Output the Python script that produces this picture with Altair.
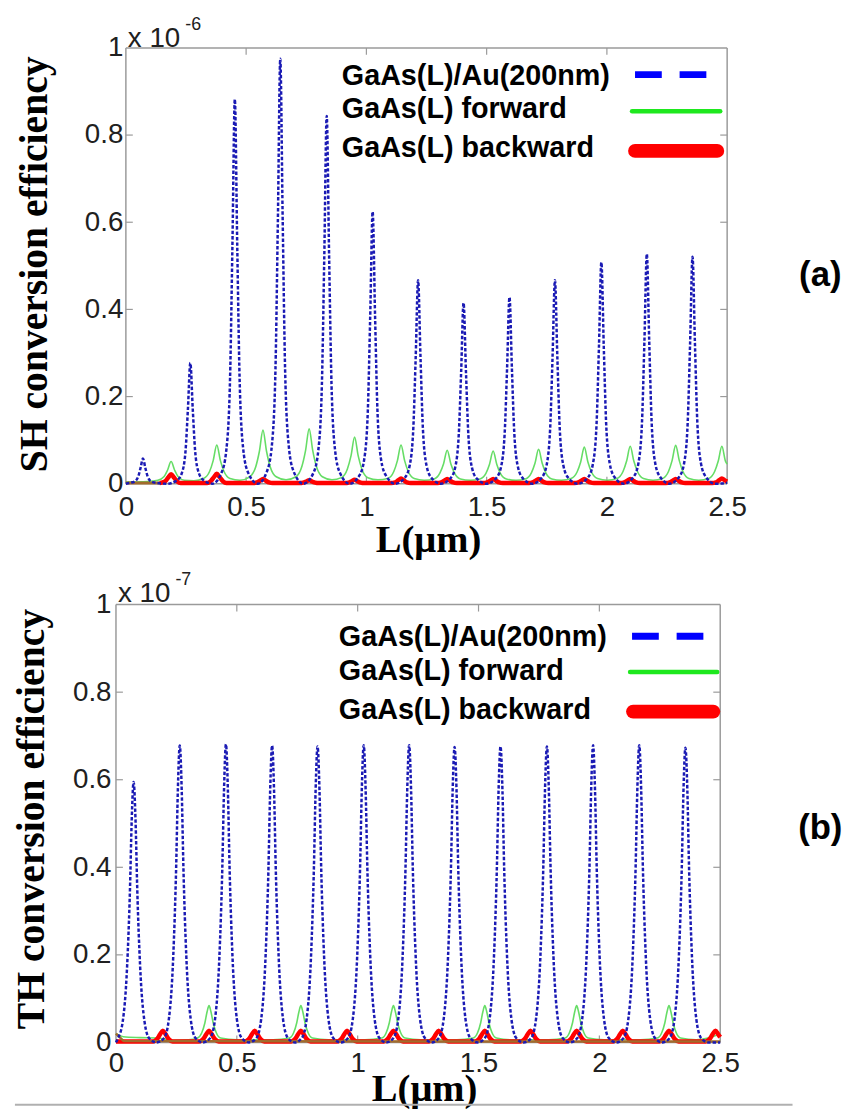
import altair as alt
import pandas as pd

# ---------------- data ----------------
X_TICKS = [0, 0.5, 1, 1.5, 2, 2.5]
Y_TICKS = [0, 0.2, 0.4, 0.6, 0.8, 1]
LEGEND_LABELS = ["GaAs(L)/Au(200nm)", "GaAs(L) forward", "GaAs(L) backward"]

# (a) SH, units of 1e-6
SH_AU_L = [0.000,
           0.016, 0.036, 0.051, 0.061, 0.071, 0.081, 0.091, 0.106, 0.126, 0.170,
           0.213, 0.233, 0.248, 0.258, 0.268, 0.278, 0.288, 0.303, 0.323, 0.360,
           0.398, 0.418, 0.433, 0.443, 0.453, 0.463, 0.473, 0.488, 0.508, 0.548,
           0.587, 0.607, 0.622, 0.632, 0.642, 0.652, 0.662, 0.677, 0.697, 0.738,
           0.780, 0.800, 0.815, 0.825, 0.835, 0.845, 0.855, 0.870, 0.890, 0.930,
           0.971, 0.991, 1.006, 1.016, 1.026, 1.036, 1.046, 1.061, 1.081, 1.120,
           1.160, 1.180, 1.195, 1.205, 1.215, 1.225, 1.235, 1.250, 1.270, 1.310,
           1.349, 1.369, 1.384, 1.394, 1.404, 1.414, 1.424, 1.439, 1.459, 1.500,
           1.540, 1.560, 1.575, 1.585, 1.595, 1.605, 1.615, 1.630, 1.650, 1.690,
           1.729, 1.749, 1.764, 1.774, 1.784, 1.794, 1.804, 1.819, 1.839, 1.880,
           1.922, 1.942, 1.957, 1.967, 1.977, 1.987, 1.997, 2.012, 2.032, 2.070,
           2.111, 2.131, 2.146, 2.156, 2.166, 2.176, 2.186, 2.201, 2.221, 2.260,
           2.301, 2.321, 2.336, 2.346, 2.356, 2.366, 2.376, 2.391, 2.411, 2.450,
           2.500]
SH_AU_V = [0.000,
           0.002, 0.005, 0.016, 0.036, 0.058, 0.036, 0.016, 0.005, 0.002, 0.000,
           0.008, 0.025, 0.075, 0.172, 0.277, 0.172, 0.075, 0.025, 0.008, 0.000,
           0.026, 0.079, 0.238, 0.547, 0.882, 0.547, 0.238, 0.079, 0.026, 0.000,
           0.029, 0.088, 0.263, 0.605, 0.975, 0.605, 0.263, 0.088, 0.029, 0.000,
           0.025, 0.076, 0.228, 0.523, 0.844, 0.523, 0.228, 0.076, 0.025, 0.000,
           0.019, 0.056, 0.168, 0.387, 0.624, 0.387, 0.168, 0.056, 0.019, 0.000,
           0.014, 0.042, 0.126, 0.290, 0.467, 0.290, 0.126, 0.042, 0.014, 0.000,
           0.012, 0.037, 0.112, 0.257, 0.415, 0.257, 0.112, 0.037, 0.012, 0.000,
           0.013, 0.039, 0.116, 0.265, 0.428, 0.265, 0.116, 0.039, 0.013, 0.000,
           0.014, 0.042, 0.126, 0.290, 0.467, 0.290, 0.126, 0.042, 0.014, 0.000,
           0.015, 0.046, 0.137, 0.315, 0.508, 0.315, 0.137, 0.046, 0.015, 0.000,
           0.016, 0.047, 0.142, 0.327, 0.527, 0.327, 0.142, 0.047, 0.016, 0.000,
           0.016, 0.047, 0.141, 0.323, 0.521, 0.323, 0.141, 0.047, 0.016, 0.000,
           0.002]

SH_FWD_L = [0.000, 0.090,
            0.133, 0.158, 0.173, 0.188, 0.203, 0.218, 0.243, 0.283,
            0.323, 0.348, 0.363, 0.378, 0.393, 0.408, 0.433, 0.474,
            0.515, 0.540, 0.555, 0.570, 0.585, 0.600, 0.625, 0.666,
            0.707, 0.732, 0.747, 0.762, 0.777, 0.792, 0.817, 0.857,
            0.896, 0.921, 0.936, 0.951, 0.966, 0.981, 1.006, 1.048,
            1.089, 1.114, 1.129, 1.144, 1.159, 1.174, 1.199, 1.240,
            1.281, 1.306, 1.321, 1.336, 1.351, 1.366, 1.391, 1.432,
            1.472, 1.497, 1.512, 1.527, 1.542, 1.557, 1.582, 1.622,
            1.661, 1.686, 1.701, 1.716, 1.731, 1.746, 1.771, 1.811,
            1.851, 1.876, 1.891, 1.906, 1.921, 1.936, 1.961, 2.002,
            2.042, 2.067, 2.082, 2.097, 2.112, 2.127, 2.152, 2.192,
            2.231, 2.256, 2.271, 2.286, 2.301, 2.316, 2.341, 2.382,
            2.423, 2.448, 2.463, 2.478, 2.493, 2.500]
SH_FWD_V = [0.004, 0.005,
            0.008, 0.016, 0.031, 0.051, 0.031, 0.016, 0.008, 0.007,
            0.012, 0.028, 0.053, 0.089, 0.053, 0.028, 0.012, 0.008,
            0.016, 0.039, 0.074, 0.123, 0.074, 0.039, 0.016, 0.009,
            0.016, 0.040, 0.076, 0.126, 0.076, 0.040, 0.016, 0.009,
            0.014, 0.034, 0.064, 0.107, 0.064, 0.034, 0.014, 0.009,
            0.012, 0.028, 0.053, 0.089, 0.053, 0.028, 0.012, 0.008,
            0.011, 0.025, 0.046, 0.077, 0.046, 0.025, 0.011, 0.008,
            0.011, 0.024, 0.045, 0.075, 0.045, 0.024, 0.011, 0.008,
            0.011, 0.025, 0.047, 0.079, 0.047, 0.025, 0.011, 0.008,
            0.012, 0.027, 0.050, 0.084, 0.050, 0.027, 0.012, 0.008,
            0.012, 0.028, 0.052, 0.086, 0.052, 0.028, 0.012, 0.008,
            0.012, 0.028, 0.053, 0.088, 0.053, 0.028, 0.012, 0.008,
            0.012, 0.028, 0.052, 0.086, 0.052, 0.045]

SH_BWD_L = [0.140,
            0.163, 0.176, 0.188, 0.200, 0.213, 0.228,
            0.338, 0.353, 0.366, 0.378, 0.390, 0.403, 0.418,
            0.530, 0.545, 0.558, 0.570, 0.582, 0.595, 0.610,
            0.722, 0.737, 0.750, 0.762, 0.774, 0.787, 0.802,
            0.911, 0.926, 0.939, 0.951, 0.963, 0.976, 0.991,
            1.104, 1.119, 1.132, 1.144, 1.156, 1.169, 1.184,
            1.296, 1.311, 1.324, 1.336, 1.348, 1.361, 1.376,
            1.487, 1.502, 1.515, 1.527, 1.539, 1.552, 1.567,
            1.676, 1.691, 1.704, 1.716, 1.728, 1.741, 1.756,
            1.866, 1.881, 1.894, 1.906, 1.918, 1.931, 1.946,
            2.057, 2.072, 2.085, 2.097, 2.109, 2.122, 2.137,
            2.246, 2.261, 2.274, 2.286, 2.298, 2.311, 2.326,
            2.438, 2.453, 2.466, 2.478, 2.490, 2.500]
SH_BWD_V = [0.0015,
            0.0055, 0.0143, 0.022, 0.0143, 0.0055, 0.0015,
            0.0015, 0.006, 0.015, 0.023, 0.015, 0.006, 0.0015,
            0.0015, 0.003, 0.007, 0.011, 0.007, 0.003, 0.0015,
            0.0015, 0.0025, 0.0052, 0.008, 0.0052, 0.0025, 0.0015,
            0.0015, 0.0025, 0.0059, 0.009, 0.0059, 0.0025, 0.0015,
            0.0015, 0.003, 0.0078, 0.012, 0.0078, 0.003, 0.0015,
            0.0015, 0.003, 0.007, 0.011, 0.007, 0.003, 0.0015,
            0.0015, 0.003, 0.007, 0.011, 0.007, 0.003, 0.0015,
            0.0015, 0.003, 0.007, 0.011, 0.007, 0.003, 0.0015,
            0.0015, 0.003, 0.007, 0.011, 0.007, 0.003, 0.0015,
            0.0015, 0.003, 0.007, 0.011, 0.007, 0.003, 0.0015,
            0.0015, 0.003, 0.007, 0.011, 0.007, 0.003, 0.0015,
            0.0015, 0.003, 0.0078, 0.012, 0.0078, 0.005]

SH_BASE_L = [0.000, 0.140]
SH_BASE_V = [0.0015, 0.0015]

# (b) TH, units of 1e-7
TH_AU_L = [0.000,
           0.008, 0.028, 0.046, 0.058, 0.065, 0.073, 0.081, 0.088, 0.100, 0.118, 0.138, 0.168,
           0.199, 0.219, 0.237, 0.249, 0.256, 0.264, 0.272, 0.279, 0.291, 0.309, 0.329, 0.360,
           0.390, 0.410, 0.428, 0.440, 0.447, 0.455, 0.463, 0.470, 0.482, 0.500, 0.520, 0.550,
           0.581, 0.601, 0.619, 0.631, 0.638, 0.646, 0.654, 0.661, 0.673, 0.691, 0.711, 0.740,
           0.769, 0.789, 0.807, 0.819, 0.826, 0.834, 0.842, 0.849, 0.861, 0.879, 0.899, 0.930,
           0.960, 0.980, 0.998, 1.010, 1.017, 1.025, 1.033, 1.040, 1.052, 1.070, 1.090, 1.119,
           1.148, 1.168, 1.186, 1.198, 1.205, 1.213, 1.221, 1.228, 1.240, 1.258, 1.278, 1.307,
           1.336, 1.356, 1.374, 1.386, 1.393, 1.401, 1.409, 1.416, 1.428, 1.446, 1.466, 1.496,
           1.526, 1.546, 1.564, 1.576, 1.583, 1.591, 1.599, 1.606, 1.618, 1.636, 1.656, 1.687,
           1.718, 1.738, 1.756, 1.768, 1.775, 1.783, 1.791, 1.798, 1.810, 1.828, 1.848, 1.878,
           1.909, 1.929, 1.947, 1.959, 1.966, 1.974, 1.982, 1.989, 2.001, 2.019, 2.039, 2.070,
           2.100, 2.120, 2.138, 2.150, 2.157, 2.165, 2.173, 2.180, 2.192, 2.210, 2.230, 2.260,
           2.291, 2.311, 2.329, 2.341, 2.348, 2.356, 2.364, 2.371, 2.383, 2.401, 2.421, 2.450,
           2.500]
TH_AU_V = [0.000,
           0.009, 0.048, 0.173, 0.351, 0.506, 0.595, 0.506, 0.351, 0.173, 0.048, 0.009, 0.000,
           0.010, 0.054, 0.197, 0.400, 0.576, 0.678, 0.576, 0.400, 0.197, 0.054, 0.010, 0.000,
           0.010, 0.054, 0.197, 0.400, 0.576, 0.681, 0.576, 0.400, 0.197, 0.054, 0.010, 0.000,
           0.010, 0.054, 0.197, 0.400, 0.576, 0.678, 0.576, 0.400, 0.197, 0.054, 0.010, 0.000,
           0.010, 0.054, 0.197, 0.400, 0.576, 0.676, 0.576, 0.400, 0.197, 0.054, 0.010, 0.000,
           0.010, 0.054, 0.197, 0.400, 0.576, 0.679, 0.576, 0.400, 0.197, 0.054, 0.010, 0.000,
           0.010, 0.054, 0.197, 0.400, 0.576, 0.679, 0.576, 0.400, 0.197, 0.054, 0.010, 0.000,
           0.010, 0.054, 0.197, 0.400, 0.576, 0.675, 0.576, 0.400, 0.197, 0.054, 0.010, 0.000,
           0.010, 0.054, 0.197, 0.400, 0.576, 0.676, 0.576, 0.400, 0.197, 0.054, 0.010, 0.000,
           0.010, 0.054, 0.197, 0.400, 0.576, 0.676, 0.576, 0.400, 0.197, 0.054, 0.010, 0.000,
           0.010, 0.054, 0.197, 0.400, 0.576, 0.679, 0.576, 0.400, 0.197, 0.054, 0.010, 0.000,
           0.010, 0.054, 0.197, 0.400, 0.576, 0.679, 0.576, 0.400, 0.197, 0.054, 0.010, 0.000,
           0.010, 0.054, 0.197, 0.400, 0.576, 0.673, 0.576, 0.400, 0.197, 0.054, 0.010, 0.000,
           0.000]

TH_FWD_L = [0.000, 0.030, 0.100, 0.170, 0.230, 0.300,
            0.337, 0.355, 0.368, 0.377, 0.385, 0.393, 0.402, 0.415, 0.433,
            0.500, 0.575, 0.650,
            0.717, 0.735, 0.748, 0.757, 0.765, 0.773, 0.782, 0.795, 0.813,
            0.880, 0.956, 1.030,
            1.100, 1.118, 1.131, 1.140, 1.148, 1.156, 1.165, 1.178, 1.196,
            1.260, 1.335, 1.410,
            1.478, 1.496, 1.509, 1.518, 1.526, 1.534, 1.543, 1.556, 1.574,
            1.640, 1.715, 1.790,
            1.858, 1.876, 1.889, 1.898, 1.906, 1.914, 1.923, 1.936, 1.954,
            2.020, 2.097, 2.170,
            2.240, 2.258, 2.271, 2.280, 2.288, 2.296, 2.305, 2.318, 2.336,
            2.400, 2.450, 2.500]
TH_FWD_V = [0.020, 0.013, 0.011, 0.010, 0.005, 0.006,
            0.010, 0.022, 0.045, 0.070, 0.084, 0.070, 0.045, 0.022, 0.010,
            0.006, 0.006, 0.006,
            0.010, 0.022, 0.045, 0.070, 0.084, 0.070, 0.045, 0.022, 0.010,
            0.006, 0.006, 0.006,
            0.010, 0.022, 0.045, 0.070, 0.084, 0.070, 0.045, 0.022, 0.010,
            0.006, 0.006, 0.006,
            0.010, 0.022, 0.045, 0.070, 0.084, 0.070, 0.045, 0.022, 0.010,
            0.006, 0.006, 0.006,
            0.010, 0.022, 0.045, 0.070, 0.084, 0.070, 0.045, 0.022, 0.010,
            0.006, 0.006, 0.006,
            0.010, 0.022, 0.045, 0.070, 0.084, 0.070, 0.045, 0.022, 0.010,
            0.006, 0.010, 0.020]

TH_BWD_L = [0.000,
            0.154, 0.169, 0.182, 0.194, 0.206, 0.219, 0.234,
            0.345, 0.360, 0.373, 0.385, 0.397, 0.410, 0.425,
            0.534, 0.549, 0.562, 0.574, 0.586, 0.599, 0.614,
            0.725, 0.740, 0.753, 0.765, 0.777, 0.790, 0.805,
            0.916, 0.931, 0.944, 0.956, 0.968, 0.981, 0.996,
            1.108, 1.123, 1.136, 1.148, 1.160, 1.173, 1.188,
            1.295, 1.310, 1.323, 1.335, 1.347, 1.360, 1.375,
            1.486, 1.501, 1.514, 1.526, 1.538, 1.551, 1.566,
            1.675, 1.690, 1.703, 1.715, 1.727, 1.740, 1.755,
            1.866, 1.881, 1.894, 1.906, 1.918, 1.931, 1.946,
            2.057, 2.072, 2.085, 2.097, 2.109, 2.122, 2.137,
            2.248, 2.263, 2.276, 2.288, 2.300, 2.313, 2.328,
            2.440, 2.455, 2.468, 2.480, 2.492, 2.500]
TH_BWD_V = [0.002,
            0.002, 0.007, 0.018, 0.027, 0.018, 0.007, 0.002,
            0.002, 0.007, 0.018, 0.027, 0.018, 0.007, 0.002,
            0.002, 0.007, 0.018, 0.027, 0.018, 0.007, 0.002,
            0.002, 0.007, 0.018, 0.027, 0.018, 0.007, 0.002,
            0.002, 0.007, 0.018, 0.027, 0.018, 0.007, 0.002,
            0.002, 0.007, 0.018, 0.027, 0.018, 0.007, 0.002,
            0.002, 0.007, 0.018, 0.027, 0.018, 0.007, 0.002,
            0.002, 0.007, 0.018, 0.027, 0.018, 0.007, 0.002,
            0.002, 0.007, 0.018, 0.027, 0.018, 0.007, 0.002,
            0.002, 0.007, 0.018, 0.027, 0.018, 0.007, 0.002,
            0.002, 0.007, 0.018, 0.027, 0.018, 0.007, 0.002,
            0.002, 0.007, 0.018, 0.027, 0.018, 0.007, 0.002,
            0.002, 0.007, 0.018, 0.027, 0.018, 0.012]

TH_BASE_L = [0.000, 0.015, 0.035, 2.500]
TH_BASE_V = [0.020, 0.012, 0.003, 0.002]

# ---------------- styling ----------------
SANS = "Liberation Sans"
SERIF = "Liberation Serif"
FRAME = "#9a9a9a"
LABEL_COLOR = "#202020"
BLUE_LINE = "#1a1ab4"
GREEN_LINE = "#66dd66"
RED_LINE = "#ff0000"
BROWN_LINE = "#a26b2c"
ONE = pd.DataFrame({"k": [0]})


def panel(cfg):
    W, H = cfg["W"], cfg["H"]
    xs = alt.Scale(domain=[cfg["x_lo"], 2.5], nice=False, zero=False)
    ys = alt.Scale(domain=[0, 1], nice=False, zero=False)
    xaxis = alt.Axis(values=X_TICKS, format=".1~f", title="L(μm)",
                     domain=False, ticks=False, tickSize=0, grid=False,
                     labelFont=SANS, labelFontSize=28, labelColor=LABEL_COLOR,
                     labelPadding=cfg["xpad"], labelFlush=False, labelOverlap=False,
                     titleFont=SERIF, titleFontWeight="bold", titleFontSize=39,
                     titleColor="black", titleX=cfg["xtx"], titleY=cfg["xty"],
                     titleAlign="center", titleBaseline="middle", titleAngle=0)
    yaxis = alt.Axis(values=Y_TICKS, format=".1~f", title=cfg["ytitle"],
                     offset=cfg["yoff"], domain=False, ticks=False, tickSize=0, grid=False,
                     labelFont=SANS, labelFontSize=28, labelColor=LABEL_COLOR,
                     labelPadding=cfg["ypad"], labelOverlap=False,
                     titleFont=SERIF, titleFontWeight="bold", titleFontSize=40,
                     titleColor="black", titleX=cfg["ytx"], titleY=cfg["yty"],
                     titleAlign="center", titleBaseline="middle", titleAngle=270)

    def X(f):
        return alt.X(f, type="quantitative", scale=xs, axis=xaxis, title="L(μm)")

    def Y(f):
        return alt.Y(f, type="quantitative", scale=ys, axis=yaxis, title=cfg["ytitle"])

    layers = []
    # frame
    frame = pd.DataFrame({"x": [0, 0, 0, 2.5], "x2": [2.5, 2.5, 0, 2.5],
                          "y": [0, 1, 0, 0], "y2": [0, 1, 1, 1]})
    layers.append(alt.Chart(frame).mark_rule(color=FRAME, strokeWidth=1.5).encode(
        x=X("x"), x2="x2", y=Y("y"), y2="y2"))
    # inward ticks
    xt = pd.DataFrame({"t": X_TICKS[1:-1]})
    yt = pd.DataFrame({"t": Y_TICKS[1:-1]})
    layers.append(alt.Chart(xt).mark_rule(color=FRAME, strokeWidth=1.2).encode(
        x=X("t"), y=alt.value(H), y2=alt.value(H - 7)))
    layers.append(alt.Chart(xt).mark_rule(color=FRAME, strokeWidth=1.2).encode(
        x=X("t"), y=alt.value(0), y2=alt.value(7)))
    x0 = cfg["x0px"]
    layers.append(alt.Chart(yt).mark_rule(color=FRAME, strokeWidth=1.2).encode(
        y=Y("t"), x=alt.value(x0), x2=alt.value(x0 + 7)))
    layers.append(alt.Chart(yt).mark_rule(color=FRAME, strokeWidth=1.2).encode(
        y=Y("t"), x=alt.value(W), x2=alt.value(W - 7)))

    # curves
    def line(L, V, **style):
        df = pd.DataFrame({"L": L, "v": V})
        return alt.Chart(df).mark_line(interpolate="monotone", **style).encode(
            x=X("L"), y=Y("v"), order="L")

    layers.append(line(*cfg["fwd"], color=GREEN_LINE, strokeWidth=1.6))
    layers.append(line(*cfg["bwd"], color=RED_LINE, strokeWidth=4.5))
    layers.append(line(*cfg["base"], color=BROWN_LINE, strokeWidth=cfg["basew"]))
    layers.append(line(*cfg["au"], color=BLUE_LINE, strokeWidth=2.5, strokeDash=[3.5, 2]))

    # exponent
    ex = cfg["exp"]
    layers.append(alt.Chart(ONE).mark_text(text="x 10", font=SANS, fontSize=28,
                                           color=LABEL_COLOR, align="left",
                                           baseline="alphabetic").encode(
        x=alt.value(ex[0]), y=alt.value(ex[1])))
    layers.append(alt.Chart(ONE).mark_text(text=cfg["exptxt"], font=SANS, fontSize=18,
                                           color=LABEL_COLOR, align="left",
                                           baseline="alphabetic").encode(
        x=alt.value(ex[2]), y=alt.value(ex[3])))

    # legend
    lx = cfg["legx"]
    ly = cfg["legy"]
    for lab, yy in zip(LEGEND_LABELS, ly):
        layers.append(alt.Chart(ONE).mark_text(text=lab, font=SANS, fontSize=29,
                                               fontWeight="bold", color="black",
                                               align="left", baseline="middle").encode(
            x=alt.value(lx), y=alt.value(yy)))
    s = cfg["sym"]
    layers.append(alt.Chart(ONE).mark_rule(color="#0000ff", strokeWidth=7,
                                           strokeDash=[27, 18]).encode(
        x=alt.value(s[0][0]), x2=alt.value(s[0][1]), y=alt.value(s[0][2])))
    layers.append(alt.Chart(ONE).mark_rule(color="#1ee81e", strokeWidth=4.5,
                                           strokeCap="round").encode(
        x=alt.value(s[1][0]), x2=alt.value(s[1][1]), y=alt.value(s[1][2])))
    layers.append(alt.Chart(ONE).mark_rule(color="#ff0000", strokeWidth=14,
                                           strokeCap="round").encode(
        x=alt.value(s[2][0]), x2=alt.value(s[2][1]), y=alt.value(s[2][2])))

    # panel label
    layers.append(alt.Chart(ONE).mark_text(text=cfg["tag"], font=SANS, fontSize=35,
                                           fontWeight="bold", color="black",
                                           align="center", baseline="middle").encode(
        x=alt.value(cfg["tagxy"][0]), y=alt.value(cfg["tagxy"][1])))

    for extra in cfg.get("extra", []):
        layers.append(extra)

    return alt.layer(*layers).properties(width=W, height=H)


top_cfg = dict(
    W=617, H=440, x_lo=-0.04118, x0px=10, yoff=-10,
    xpad=10, ypad=3, xtx=315, xty=56, ytx=-92, yty=218,
    ytitle="SH conversion efficiency",
    au=(SH_AU_L, SH_AU_V), fwd=(SH_FWD_L, SH_FWD_V), bwd=(SH_BWD_L, SH_BWD_V),
    base=(SH_BASE_L, SH_BASE_V), basew=3,
    exp=(12, -1, 70, -18), exptxt="-6",
    legx=228, legy=[28, 62, 101],
    sym=[(524, 597, 27), (521, 610, 64), (524, 607, 104)],
    tag="(a)", tagxy=(711, 229),
)

bottom_artifact = alt.Chart(ONE).mark_rule(color="#b0b0b0", strokeWidth=2).encode(
    x=alt.value(-102), x2=alt.value(683), y=alt.value(505))

bot_cfg = dict(
    W=610, H=442, x_lo=0.0, x0px=0, yoff=0,
    xpad=7, ypad=5, xtx=311, xty=47, ytx=-85, yty=216,
    ytitle="TH conversion efficiency",
    au=(TH_AU_L, TH_AU_V), fwd=(TH_FWD_L, TH_FWD_V), bwd=(TH_BWD_L, TH_BWD_V),
    base=(TH_BASE_L, TH_BASE_V), basew=2.5,
    exp=(2, -3, 60, -20), exptxt="-7",
    legx=225, legy=[33, 67, 106],
    sym=[(521, 596, 32), (519, 607, 68), (522, 603, 108)],
    tag="(b)", tagxy=(711, 226),
    extra=[bottom_artifact],
)

chart = alt.vconcat(panel(top_cfg), panel(bot_cfg), spacing=122, bounds="flush").properties(
    padding={"left": 3, "top": 3, "right": 5, "bottom": 3}
).configure_view(stroke=None)

chart.save("out.html", embed_options={"renderer": "svg", "actions": False})
